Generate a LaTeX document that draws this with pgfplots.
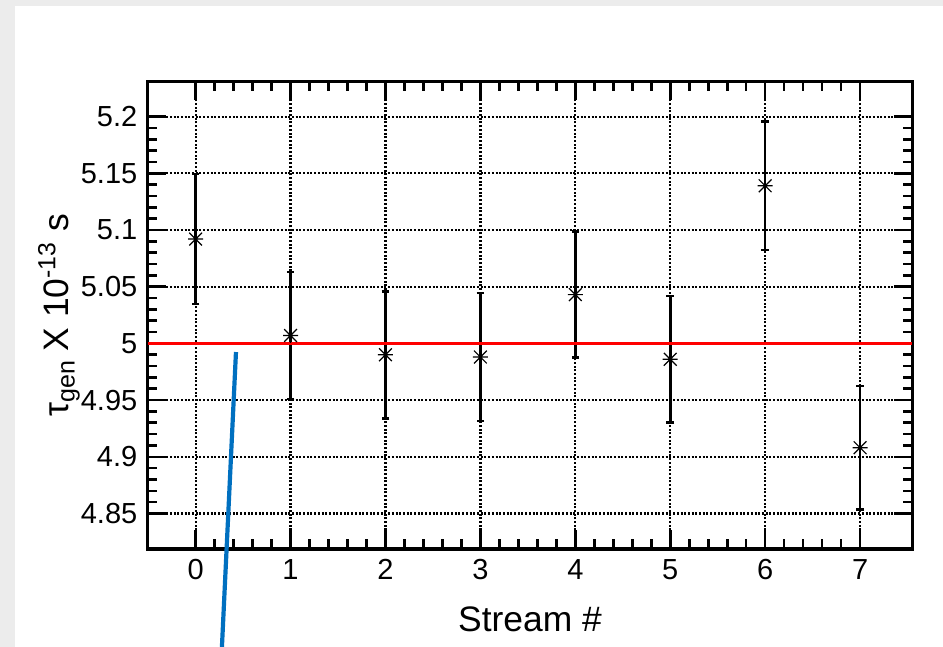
\documentclass[border=0pt]{standalone}
\usepackage{pgfplots}
\pgfplotsset{compat=1.18}
\usepackage{fontspec}
\setmainfont{Liberation Sans}
\definecolor{bggray}{RGB}{236,236,236}
\definecolor{annblue}{RGB}{0,112,192}
\pgfdeclareplotmark{rootstar}{%
  \pgfpathmoveto{\pgfqpoint{-\pgfplotmarksize}{0pt}}%
  \pgfpathlineto{\pgfqpoint{\pgfplotmarksize}{0pt}}%
  \pgfpathmoveto{\pgfqpoint{0pt}{-\pgfplotmarksize}}%
  \pgfpathlineto{\pgfqpoint{0pt}{\pgfplotmarksize}}%
  \pgfpathmoveto{\pgfqpoint{-0.85\pgfplotmarksize}{-0.85\pgfplotmarksize}}%
  \pgfpathlineto{\pgfqpoint{0.85\pgfplotmarksize}{0.85\pgfplotmarksize}}%
  \pgfpathmoveto{\pgfqpoint{-0.85\pgfplotmarksize}{0.85\pgfplotmarksize}}%
  \pgfpathlineto{\pgfqpoint{0.85\pgfplotmarksize}{-0.85\pgfplotmarksize}}%
  \pgfusepathqstroke}
\pgfplotstableread{
x y e
0 5.092 0.0574
1 5.007 0.0560
2 4.990 0.0560
3 4.988 0.0565
4 5.043 0.0555
5 4.986 0.0558
6 5.139 0.0568
7 4.908 0.0543
}\streamdata
\begin{document}
\begin{tikzpicture}
\fill[bggray] (-73.85pt,-49pt) rectangle (397.65pt,274.5pt);
\fill[white] (-66.35pt,-49pt) rectangle (397.65pt,271.5pt);
\begin{axis}[
  at={(0pt,0pt)}, anchor=south west,
  scale only axis,
  width=382.3pt, height=233.65pt,
  xmin=-0.505, xmax=7.55,
  ymin=4.8187, ymax=5.2308,
  clip=false,
  xtick={0,1,2,3,4,5,6,7},
  xticklabels={0,1,2,3,4,5,6,7},
  ytick={4.85,4.9,4.95,5,5.05,5.1,5.15,5.2},
  yticklabels={4.85,4.9,4.95,5,5.05,5.1,5.15,5.2},
  minor x tick num=4,
  minor y tick num=4,
  tick align=inside,
  major tick length=9.3pt,
  minor tick length=4.8pt,
  every tick/.style={black, line width=1.3pt},
  axis line style={line width=1.6pt},
  grid=major,
  major grid style={black, line width=1.1pt, dash pattern=on 1pt off 0.85pt},
  ticklabel style={font=\fontsize{14.5}{17}\selectfont},
  xticklabel style={anchor=base, inner sep=0pt, yshift=-15.2pt},
  yticklabel style={anchor=east, inner sep=0pt, xshift=-5pt},
  xlabel={Stream \#},
  ylabel={τ\raisebox{-0.35ex}{\fontsize{12.5}{14}\selectfont gen} X 10\textsuperscript{-13} s},
  label style={font=\fontsize{17.7}{21}\selectfont},
  xlabel style={at={(axis description cs:0.5,-0.1776)}, anchor=base},
  ylabel style={at={(axis description cs:-0.1042,0.5)}, anchor=base, rotate=0},
]
\addplot[black, only marks, mark=rootstar, mark size=3.75pt, mark options={line width=0.6pt},
  error bars/.cd, y dir=both, y explicit,
  error bar style={line width=1.3pt},
  error mark options={rotate=90, mark size=1.9pt, line width=1.3pt}]
  table[x=x, y=y, y error=e] {\streamdata};
\addplot[red, line width=1.7pt] coordinates {(-0.505,5) (7.55,5)};
\addplot[annblue, line width=2.1pt] coordinates {(0.425,4.9924) (0.277,4.7323)};
\end{axis}
\pgfresetboundingbox
\useasboundingbox (-73.85pt,-49pt) rectangle (397.65pt,274.5pt);
\end{tikzpicture}
\end{document}
